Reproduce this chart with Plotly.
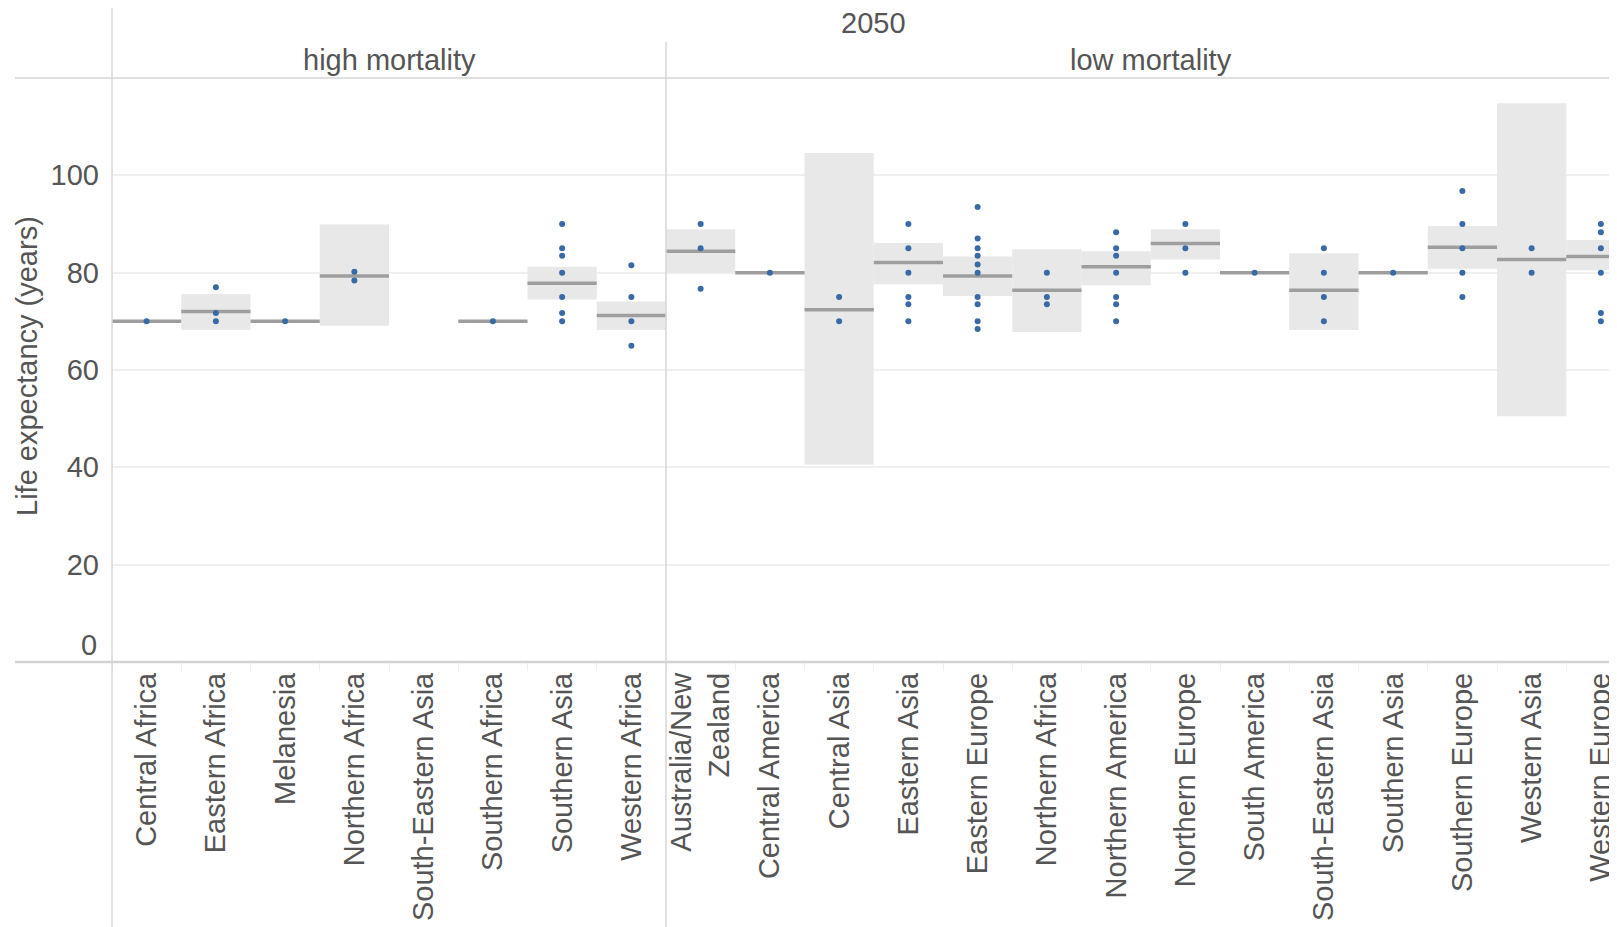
import plotly.graph_objects as go

# ---------------- data ----------------
high_regions = ["Central Africa", "Eastern Africa", "Melanesia", "Northern Africa",
                "South-Eastern Asia", "Southern Africa", "Southern Asia", "Western Africa"]
high_labels = high_regions
high_lo = [70, 68.2, 70, 69.1, None, 70, 74.5, 68.2]
high_hi = [70, 75.6, 70, 89.9, None, 70, 81.2, 74.1]
high_med = [70, 72.0, 70, 79.3, None, 70, 77.8, 71.2]
high_dots = [[70], [77, 71.7, 70], [70], [80.2, 78.4], [], [70],
             [90, 85, 83.5, 80, 75, 71.7, 70], [81.5, 75, 70, 65]]

low_regions = ["Australia/New Zealand", "Central America", "Central Asia", "Eastern Asia",
               "Eastern Europe", "Northern Africa", "Northern America", "Northern Europe",
               "South America", "South-Eastern Asia", "Southern Asia", "Southern Europe",
               "Western Asia", "Western Europe"]
low_labels = ["Australia/New<br>Zealand", "Central America", "Central Asia", "Eastern Asia",
              "Eastern Europe", "Northern Africa", "Northern America", "Northern Europe",
              "South America", "South-Eastern Asia", "Southern Asia", "Southern Europe",
              "Western Asia", "Western Europe"]
low_lo = [80, 80, 40.6, 77.6, 75.2, 67.8, 77.4, 82.7, 80, 68.2, 80, 80.8, 50.5, 80.5]
low_hi = [88.9, 80, 104.6, 86.1, 83.3, 84.8, 84.4, 88.9, 80, 84.0, 80, 89.6, 114.8, 86.7]
low_med = [84.4, 80, 72.4, 82.1, 79.3, 76.4, 81.2, 86.0, 80, 76.4, 80, 85.2, 82.7, 83.3]
low_dots = [[90, 85, 76.7], [80], [75, 70], [90, 85, 80, 75, 73.5, 70],
            [93.5, 87, 85, 83.5, 81.7, 80, 75, 73.5, 70, 68.4], [80, 75, 73.5],
            [88.3, 85, 83.5, 80, 75, 73.5, 70], [90, 85, 80], [80], [85, 80, 75, 70],
            [80], [96.8, 90, 85, 80, 75], [85, 80], [90, 88.3, 85, 80, 71.7, 70]]

y_ticks = [20, 40, 60, 80, 100]
y_title = "Life expectancy (years)"
top_header = "2050"
group_names = ["high mortality", "low mortality"]

# ---------------- styling ----------------
FONT = "Liberation Sans, Arial, sans-serif"
FS = 29
TXT = "#555555"
BOX = "#e8e8e8"
MED = "#9e9e9e"
DOT = "#3a6aa6"
LINE = "#d6d6d6"

# page geometry (the page body adds an 8px margin)
OFF = 8
PAGE_W, PAGE_H = 1617, 927
PLOT_L, PLOT_T, PLOT_B, PLOT_R = 112, 78, 662, 1625
W = PAGE_W
H = PAGE_H - OFF
L, T = PLOT_L - OFF, PLOT_T - OFF
B = (OFF + H) - PLOT_B
R = (OFF + W) - PLOT_R
PW = PLOT_R - PLOT_L
PH = PLOT_B - PLOT_T
COLW = 69.25
split = 8 * COLW / PW


def px(X):
    return (X - PLOT_L) / PW


def py(Y):
    return (PLOT_B - Y) / PH


fig = go.Figure()


def add_group(regions, lo, hi, med, dots, xa):
    bx = [r for r, a in zip(regions, lo) if a is not None]
    bb = [a for a in lo if a is not None]
    bh = [b - a for a, b in zip(lo, hi) if a is not None]
    fig.add_trace(go.Bar(x=bx, y=bh, base=bb, width=1.0, marker=dict(color=BOX, line=dict(width=0)),
                         xaxis=xa, yaxis="y", showlegend=False, hoverinfo="skip"))
    mx = [r for r, m in zip(regions, med) if m is not None]
    my = [m for m in med if m is not None]
    fig.add_trace(go.Scatter(x=mx, y=my, mode="markers", xaxis=xa, yaxis="y", showlegend=False,
                             marker=dict(symbol="line-ew", size=COLW / 1.4, color=MED,
                                         line=dict(color=MED, width=3.5))))
    dx = [r for r, vals in zip(regions, dots) for v in vals]
    dy = [v for vals in dots for v in vals]
    fig.add_trace(go.Scatter(x=dx, y=dy, mode="markers", xaxis=xa, yaxis="y", showlegend=False,
                             marker=dict(size=6, color=DOT)))


add_group(high_regions, high_lo, high_hi, high_med, high_dots, "x")
add_group(low_regions, low_lo, low_hi, low_med, low_dots, "x2")

xcommon = dict(type="category", showgrid=False, zeroline=False, showline=False,
               ticks="outside", tickson="boundaries", ticklen=8, tickcolor="#efefef",
               ticklabelstandoff=4,
               tickangle=-90, tickfont=dict(family=FONT, size=FS, color=TXT), anchor="y")

fig.update_layout(
    width=W, height=H,
    margin=dict(l=L, r=R, t=T, b=B, pad=0, autoexpand=False),
    paper_bgcolor="white", plot_bgcolor="white",
    barmode="overlay",
    xaxis=dict(domain=[0, split], range=[-0.5, 7.5],
               tickvals=high_regions, ticktext=high_labels,
               categoryorder="array", categoryarray=high_regions, **xcommon),
    xaxis2=dict(domain=[split, 1], range=[-0.5, -0.5 + (PW - 8 * COLW) / COLW],
                tickvals=low_regions, ticktext=low_labels,
                categoryorder="array", categoryarray=low_regions, **xcommon),
    yaxis=dict(range=[0, 120], tickvals=y_ticks, showgrid=True, gridcolor="#efefef", gridwidth=1.5,
               zeroline=False, showline=False, ticks="", ticklabelstandoff=12,
               tickfont=dict(family=FONT, size=FS, color=TXT), anchor="x"),
)

shapes = [
    dict(type="line", xref="paper", yref="paper", x0=px(15), x1=1, y0=1, y1=1, line=dict(color="#e0e0e0", width=2)),
    dict(type="line", xref="paper", yref="paper", x0=px(15), x1=1, y0=0, y1=0, line=dict(color="#d2d2d2", width=2.5)),
    dict(type="line", xref="paper", yref="paper", x0=0, x1=0, y0=py(PAGE_H), y1=py(5), line=dict(color=LINE, width=1.5)),
    dict(type="line", xref="paper", yref="paper", x0=split, x1=split, y0=py(PAGE_H), y1=py(42), line=dict(color=LINE, width=1.5)),
]
fig.update_layout(shapes=shapes)

full_right = (8 + 14) * COLW / PW
annos = [
    dict(text=top_header, x=full_right / 2, y=py(23)),
    dict(text=group_names[0], x=split / 2, y=py(60)),
    dict(text=group_names[1], x=(split + full_right) / 2, y=py(60)),
]
for a in annos:
    fig.add_annotation(xref="paper", yref="paper", xanchor="center", yanchor="middle", showarrow=False,
                       font=dict(family=FONT, size=FS, color=TXT), **a)
fig.add_annotation(text=y_title, xref="paper", yref="paper", x=px(27), y=py(366),
                   textangle=-90, showarrow=False, xanchor="center", yanchor="middle",
                   font=dict(family=FONT, size=FS, color=TXT))
fig.add_annotation(text="0", xref="paper", yref="y", x=px(99), y=0, xanchor="right", yanchor="bottom",
                   yshift=-1, showarrow=False, font=dict(family=FONT, size=FS, color=TXT))

fig.write_html("out.html")
